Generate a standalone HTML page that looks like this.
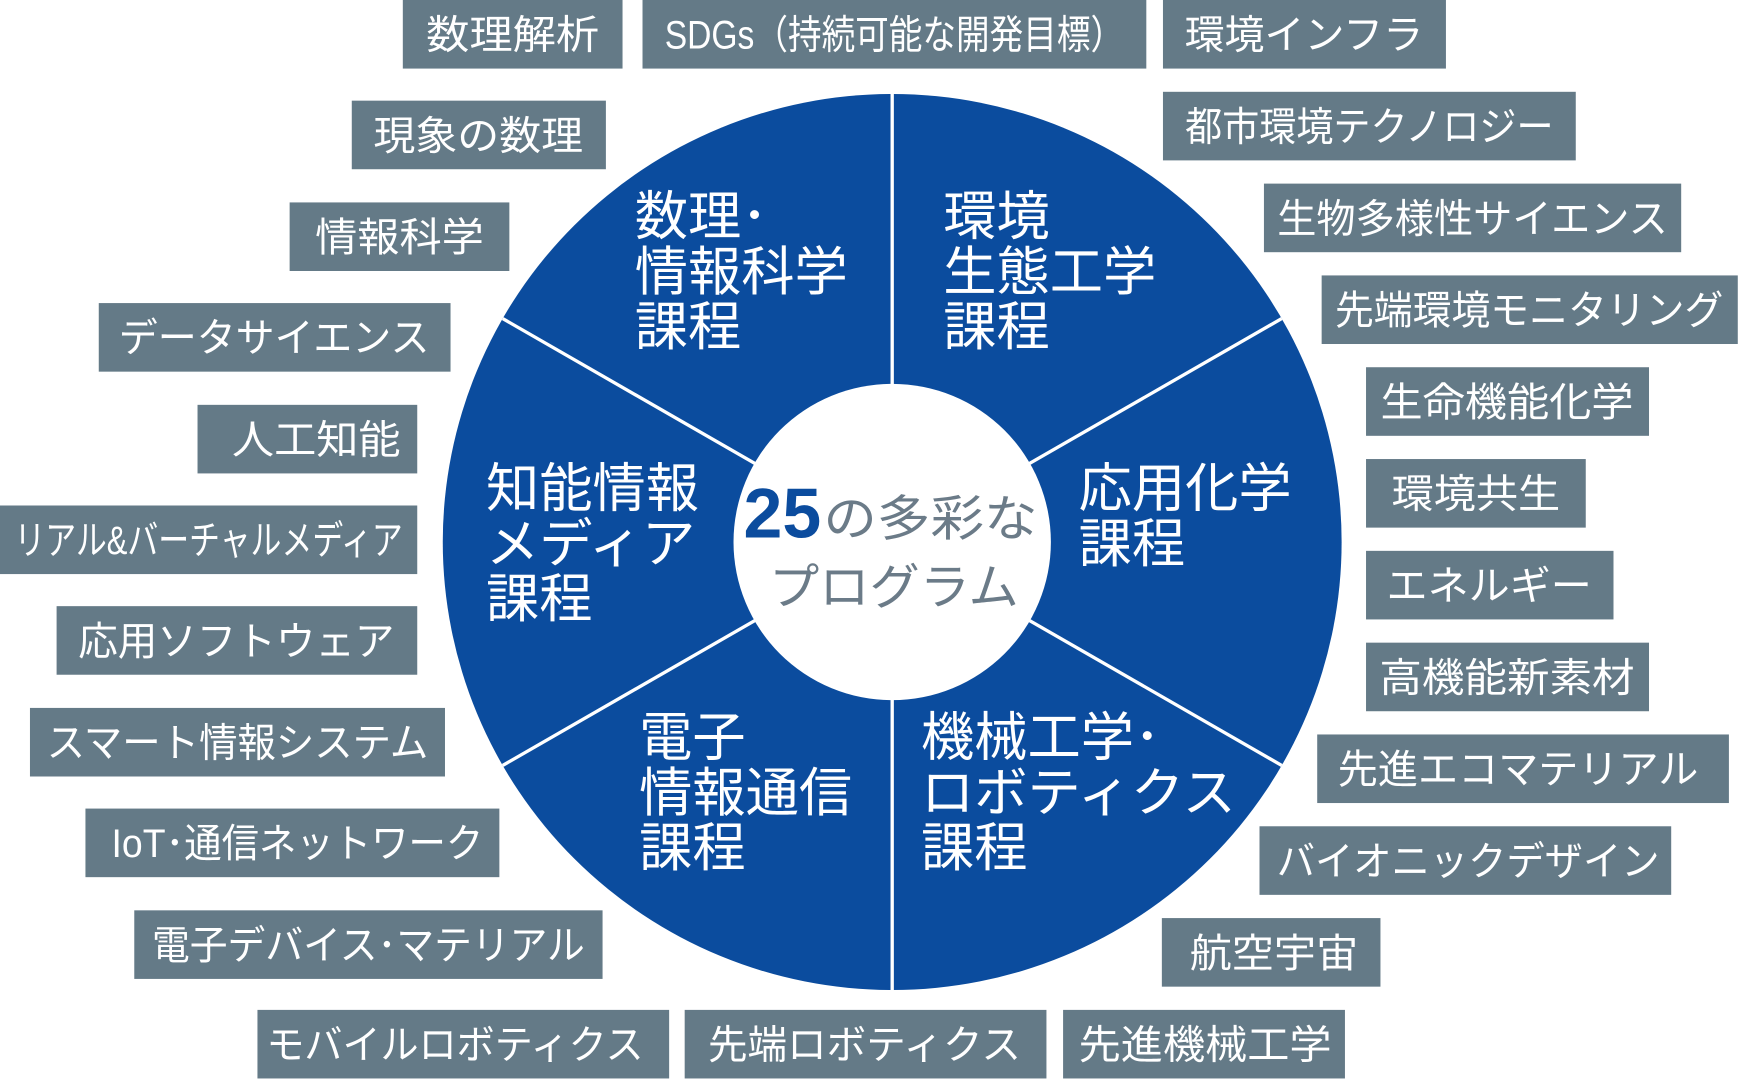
<!DOCTYPE html>
<html><head><meta charset="utf-8"><style>
html,body{margin:0;padding:0;background:#fff;}
svg{display:block;}
text{font-family:"Liberation Sans","Noto Sans CJK JP",sans-serif;}
.b{fill:#647a87;}
.t{fill:#fff;font-size:36px;}
.s{fill:#fff;font-size:48px;}
</style></head><body>
<svg width="1740" height="1084" viewBox="0 0 1568 980" preserveAspectRatio="none" xmlns="http://www.w3.org/2000/svg">
<circle cx="804" cy="490" r="405" fill="#0b4c9e"/>
<g stroke="#fff" stroke-width="3">
<line x1="804" y1="85" x2="804" y2="350"/>
<line x1="804" y1="630" x2="804" y2="895"/>
<line x1="453" y1="288" x2="682" y2="420"/>
<line x1="1155" y1="288" x2="926" y2="420"/>
<line x1="453" y1="692" x2="682" y2="560"/>
<line x1="1155" y1="692" x2="926" y2="560"/>
</g>
<circle cx="804" cy="490" r="143" fill="#fff"/>
<text x="670" y="486" font-size="64" font-weight="bold" fill="#0b4c9e" textLength="70" lengthAdjust="spacingAndGlyphs">25</text>
<text x="742" y="484" font-size="44" fill="#6b7b88" textLength="193" lengthAdjust="spacingAndGlyphs">の多彩な</text>
<text x="693" y="546" font-size="44" fill="#6b7b88" textLength="225" lengthAdjust="spacingAndGlyphs">プログラム</text>

<g class="s">
<text x="572" y="212">数理･</text><text x="572" y="262">情報科学</text><text x="572" y="312">課程</text>
<text x="850" y="212">環境</text><text x="850" y="262">生態工学</text><text x="850" y="312">課程</text>
<text x="438" y="458">知能情報</text><text x="438" y="508">メディア</text><text x="438" y="558">課程</text>
<text x="972" y="458">応用化学</text><text x="972" y="508">課程</text>
<text x="576" y="683">電子</text><text x="576" y="733">情報通信</text><text x="576" y="783">課程</text>
<text x="830" y="683">機械工学･</text><text x="830" y="733">ロボティクス</text><text x="830" y="783">課程</text>
</g>

<g id="boxes">
<rect class="b" x="363" y="0" width="198" height="62"/><text class="t" x="462" y="44" text-anchor="middle" textLength="156" lengthAdjust="spacingAndGlyphs">数理解析</text>
<rect class="b" x="579" y="0" width="454" height="62"/><text class="t" x="806" y="44" text-anchor="middle" textLength="414" lengthAdjust="spacingAndGlyphs">SDGs（持続可能な開発目標）</text>
<rect class="b" x="1048" y="0" width="255" height="62"/><text class="t" x="1175" y="44" text-anchor="middle" textLength="215" lengthAdjust="spacingAndGlyphs">環境インフラ</text>
<rect class="b" x="317" y="91" width="229" height="62"/><text class="t" x="431" y="135" text-anchor="middle" textLength="189" lengthAdjust="spacingAndGlyphs">現象の数理</text>
<rect class="b" x="1048" y="83" width="372" height="62"/><text class="t" x="1234" y="127" text-anchor="middle" textLength="332" lengthAdjust="spacingAndGlyphs">都市環境テクノロジー</text>
<rect class="b" x="261" y="183" width="198" height="62"/><text class="t" x="360" y="227" text-anchor="middle" textLength="152" lengthAdjust="spacingAndGlyphs">情報科学</text>
<rect class="b" x="1139" y="166" width="376" height="62"/><text class="t" x="1327" y="210" text-anchor="middle" textLength="352" lengthAdjust="spacingAndGlyphs">生物多様性サイエンス</text>
<rect class="b" x="89" y="274" width="317" height="62"/><text class="t" x="247" y="318" text-anchor="middle" textLength="280" lengthAdjust="spacingAndGlyphs">データサイエンス</text>
<rect class="b" x="1191" y="249" width="375" height="62"/><text class="t" x="1378" y="293" text-anchor="middle" textLength="350" lengthAdjust="spacingAndGlyphs">先端環境モニタリング</text>
<rect class="b" x="178" y="366" width="198" height="62"/><text class="t" x="285" y="410" text-anchor="middle" textLength="152" lengthAdjust="spacingAndGlyphs">人工知能</text>
<rect class="b" x="1231" y="332" width="255" height="62"/><text class="t" x="1358" y="376" text-anchor="middle" textLength="228" lengthAdjust="spacingAndGlyphs">生命機能化学</text>
<rect class="b" x="0" y="457" width="376" height="62"/><text class="t" x="188" y="501" text-anchor="middle" textLength="350" lengthAdjust="spacingAndGlyphs">リアル&amp;バーチャルメディア</text>
<rect class="b" x="1231" y="415" width="198" height="62"/><text class="t" x="1330" y="459" text-anchor="middle" textLength="152" lengthAdjust="spacingAndGlyphs">環境共生</text>
<rect class="b" x="51" y="548" width="325" height="62"/><text class="t" x="213" y="592" text-anchor="middle" textLength="285" lengthAdjust="spacingAndGlyphs">応用ソフトウェア</text>
<rect class="b" x="1231" y="498" width="223" height="62"/><text class="t" x="1342" y="542" text-anchor="middle" textLength="185" lengthAdjust="spacingAndGlyphs">エネルギー</text>
<rect class="b" x="27" y="640" width="374" height="62"/><text class="t" x="214" y="684" text-anchor="middle" textLength="344" lengthAdjust="spacingAndGlyphs">スマート情報システム</text>
<rect class="b" x="1231" y="581" width="255" height="62"/><text class="t" x="1358" y="625" text-anchor="middle" textLength="230" lengthAdjust="spacingAndGlyphs">高機能新素材</text>
<rect class="b" x="77" y="731" width="373" height="62"/><text class="t" x="268" y="775" text-anchor="middle" textLength="335" lengthAdjust="spacingAndGlyphs">IoT･通信ネットワーク</text>
<rect class="b" x="1187" y="664" width="371" height="62"/><text class="t" x="1368" y="708" text-anchor="middle" textLength="325" lengthAdjust="spacingAndGlyphs">先進エコマテリアル</text>
<rect class="b" x="121" y="823" width="422" height="62"/><text class="t" x="332" y="867" text-anchor="middle" textLength="390" lengthAdjust="spacingAndGlyphs">電子デバイス･マテリアル</text>
<rect class="b" x="1135" y="747" width="371" height="62"/><text class="t" x="1323" y="791" text-anchor="middle" textLength="345" lengthAdjust="spacingAndGlyphs">バイオニックデザイン</text>
<rect class="b" x="1047" y="830" width="197" height="62"/><text class="t" x="1148" y="874" text-anchor="middle" textLength="152" lengthAdjust="spacingAndGlyphs">航空宇宙</text>
<rect class="b" x="232" y="913" width="371" height="62"/><text class="t" x="410" y="957" text-anchor="middle" textLength="340" lengthAdjust="spacingAndGlyphs">モバイルロボティクス</text>
<rect class="b" x="617" y="913" width="326" height="62"/><text class="t" x="779" y="957" text-anchor="middle" textLength="282" lengthAdjust="spacingAndGlyphs">先端ロボティクス</text>
<rect class="b" x="958" y="913" width="254" height="62"/><text class="t" x="1086" y="957" text-anchor="middle" textLength="228" lengthAdjust="spacingAndGlyphs">先進機械工学</text>
</g>
</svg>
</body></html>
